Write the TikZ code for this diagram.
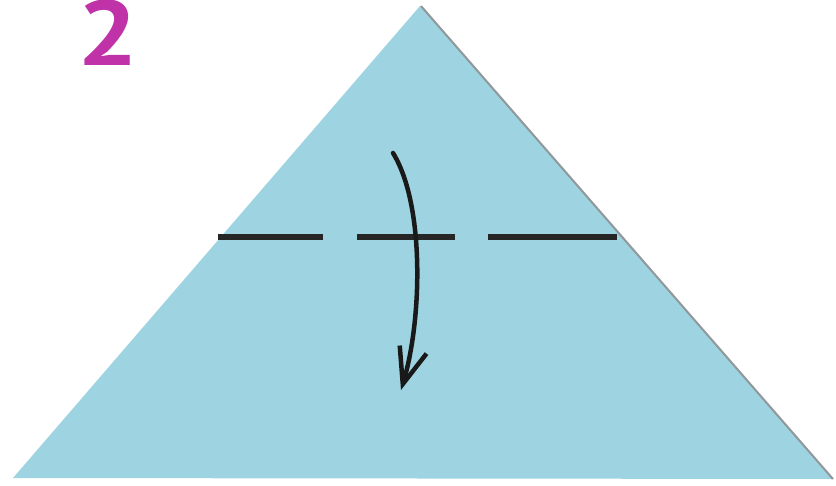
\documentclass[tikz,border=0pt]{standalone}
\usepackage{fontspec}
\setsansfont{PT Sans}
\usepackage{tikz}
\usetikzlibrary{arrows.meta}

\definecolor{paper}{RGB}{158,212,225}
\definecolor{stepmagenta}{RGB}{192,50,168}
\definecolor{shadow}{RGB}{120,128,130}

\begin{document}
\begin{tikzpicture}[x=1pt, y=-1pt, >={Straight Barb[length=36pt, width=28pt, line width=4.5pt]}]
    \useasboundingbox[fill=white] (0,0) rectangle (836,485);

    % corners of the folded sheet
    \coordinate (apex) at (420,6);
    \coordinate (left) at (13,478);
    \coordinate (right) at (832,479);
    \fill[paper] (apex) -- (left) -- (right) -- cycle;
    \draw[shadow, line width=2pt, opacity=0.8] ([xshift=1pt]apex) -- ([xshift=1pt]right);

    % step number
    \node[anchor=base, text=stepmagenta, font=\sffamily\bfseries\fontsize{92}{92}\selectfont, inner sep=0pt, xscale=1.17] (stepno) at (108,65) {2};

    % fold line
    \coordinate (foldL) at (218,237);
    \coordinate (foldR) at (617,237);
    \draw[line width=6pt, black!85, dash pattern=on 105pt off 34pt on 98pt off 33pt on 129pt off 20pt] (foldL) -- (foldR);

    % fold arrow
    \coordinate (arrowS) at (393,153);
    \coordinate (arrowE) at (401,390);
    \draw[->, line width=4.5pt, line cap=round, black!90] (arrowS) .. controls (425,205) and (422,320) .. (arrowE);
\end{tikzpicture}
\end{document}
